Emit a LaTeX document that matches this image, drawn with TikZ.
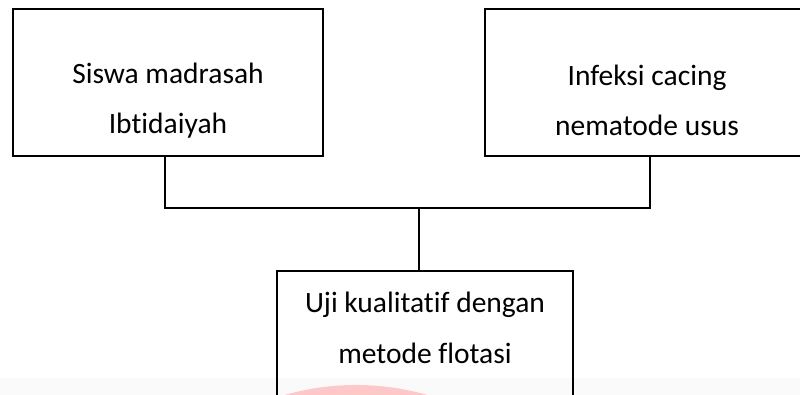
\documentclass[tikz,border=0pt]{standalone}
\usepackage{fontspec}
\setmainfont{Carlito}[Ligatures=NoCommon]
\begin{document}
\begin{tikzpicture}[x=1pt,y=1pt,
  box/.style={draw=black, line width=1.7pt, minimum width=#1, minimum height=147pt, inner sep=0pt},
  box/.default=310pt,
  label text/.style={align=center, inner sep=0pt, font=\fontsize{29.5}{50.5}\selectfont},
  link/.style={draw=black, line width=1.7pt}]
  \useasboundingbox (0,0) rectangle (800,395);
  \clip (0,0) rectangle (800,395);
  % pale footer strip with a faint seal
  \fill[black!2] (0,0) rectangle (800,17);
  \fill[red!30!pink!45] (356,-247) circle (257);
  % boxes
  \node[box=310pt] (lbox) at (168,312.5) {};
  \node[box=324pt] (rbox) at (647,312.5) {};
  \node[box=296pt, minimum height=170pt] (bbox) at (425,39) {};
  % texts
  \node[label text] (ltext) at (168,294.5) {Siswa madrasah\\Ibtidaiyah};
  \node[label text] (rtext) at (647,294.5) {Infeksi cacing\\nematode usus};
  \node[label text] (btext) at (425,67) {Uji kualitatif dengan\\metode flotasi};
  % connectors
  \coordinate (junc) at (419,187);
  \draw[link] ([xshift=-3pt]lbox.south) |- (junc) -| ([xshift=3pt]rbox.south);
  \draw[link] (junc) -- (junc |- bbox.north);
\end{tikzpicture}
\end{document}
